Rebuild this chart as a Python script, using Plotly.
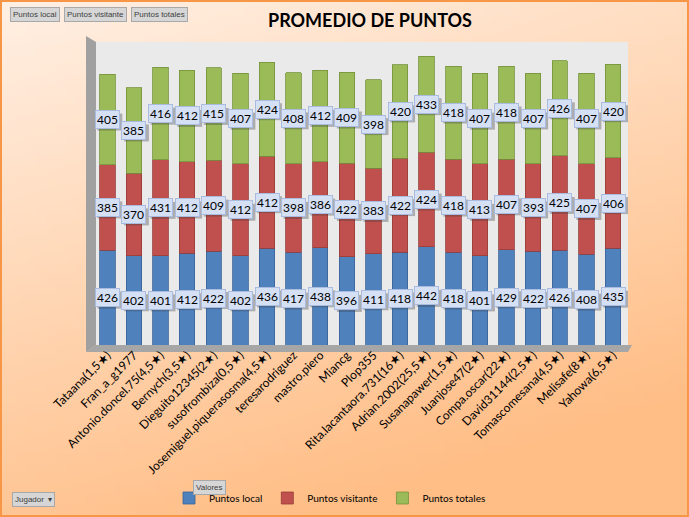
import base64, struct, zlib
import plotly.graph_objects as go

jugadores = ["Tataana(1,5★)", "Fran_a_g1977", "Antonio.doncel.75(4,5★)", "Bernych(3,5★)",
             "Dieguito12345(2★)", "susofrombiza(0,5★)", "Josemiguel.piquerasosma(4,5★)",
             "teresarodriguez", "mastro.piero", "Miancg", "Plop355", "Rita.lacantaora.731(16★)",
             "Adrian.2002(25,5★)", "Susanapawer(1,5★)", "Juanjose47(2★)", "Compa.oscar(22★)",
             "David31144(2,5★)", "Tomascomesana(4,5★)", "Melisafe(8★)", "Yahowa(6,5★)"]
puntos_local = [426, 402, 401, 412, 422, 402, 436, 417, 438, 396, 411, 418, 442, 418, 401, 429, 422, 426, 408, 435]
puntos_visitante = [385, 370, 431, 412, 409, 412, 412, 398, 386, 422, 383, 422, 424, 418, 413, 407, 393, 425, 407, 406]
puntos_totales = [405, 385, 416, 412, 415, 407, 424, 408, 412, 409, 398, 420, 433, 418, 407, 418, 407, 426, 407, 420]

series = [("Puntos local", puntos_local, "#4F81BD", "#3A6396"),
          ("Puntos visitante", puntos_visitante, "#C0504D", "#963C3A"),
          ("Puntos totales", puntos_totales, "#9BBB59", "#76923C")]

W, H = 689, 517
L, R, T, B = 94, 61, 38, 172
PW, PH = W - L - R, H - T - B


def px(x):
    return (x - L) / PW


def py(y):
    return (H - B - y) / PH


# gradient background as a small PNG
def make_png(w, h):
    rows = []
    c0, c1 = (255, 240, 228), (255, 190, 134)
    for j in range(h):
        row = bytearray([0])
        for i in range(w):
            t = min(1.0, max(0.0, 0.35 * i / w + 0.85 * j / h))
            row += bytes(int(c0[k] + (c1[k] - c0[k]) * t) for k in range(3))
        rows.append(bytes(row))
    raw = b"".join(rows)

    def chunk(tag, data):
        return struct.pack(">I", len(data)) + tag + data + struct.pack(">I", zlib.crc32(tag + data) & 0xffffffff)

    png = b"\x89PNG\r\n\x1a\n" + chunk(b"IHDR", struct.pack(">IIBBBBB", w, h, 8, 2, 0, 0, 0))
    png += chunk(b"IDAT", zlib.compress(raw, 9)) + chunk(b"IEND", b"")
    return "data:image/png;base64," + base64.b64encode(png).decode()


fig = go.Figure()
for name, vals, col, edge in series:
    fig.add_trace(go.Bar(x=jugadores, y=vals, name=name, marker=dict(color=col, line=dict(color=edge, width=0.8))))

annotations = []
shapes = []
base = [0] * len(jugadores)
for name, vals, col, edge in series:
    for i, (cat, v) in enumerate(zip(jugadores, vals)):
        yc = base[i] + v / 2
        # drop shadow of the label box
        shapes.append(dict(type="rect", xref="x", yref="y", xsizemode="pixel", ysizemode="pixel",
                           xanchor=cat, yanchor=yc, x0=-10, x1=15, y0=-11, y1=6, layer="above",
                           fillcolor="rgba(60,60,60,0.35)", line=dict(width=0)))
        annotations.append(dict(x=cat, y=yc, xref="x", yref="y", text=str(v), showarrow=False,
                                font=dict(family="Lato", size=12, color="#000000"),
                                bgcolor="#D5E0F5", bordercolor="#A9BCE0", borderwidth=1, borderpad=1))
        base[i] += v

btn = dict(showarrow=False, xref="paper", yref="paper", xanchor="center", yanchor="middle",
           bgcolor="#D6D6D6", bordercolor="#A8A8A8", borderwidth=1, borderpad=2,
           font=dict(family="Liberation Sans", size=8, color="#404040"))
for text, cx, cy in [("Puntos local", 35, 15), ("Puntos visitante", 95, 15), ("Puntos totales", 159, 15),
                     ("Jugador  ▾", 33, 499), ("Valores", 209, 487)]:
    annotations.append(dict(text=text, x=px(cx), y=py(cy), **btn))

annotations.append(dict(text="<b>PROMEDIO DE PUNTOS</b>", x=px(370), y=py(20), xref="paper", yref="paper",
                        xanchor="center", yanchor="middle",
                        showarrow=False, font=dict(family="Lato", size=18, color="#000000")))

shapes += [
    # back wall
    dict(type="rect", xref="paper", yref="paper", x0=0, x1=1, y0=0, y1=py(42), layer="below",
         fillcolor="#EAEAEA", line=dict(width=0)),
    # left wall
    dict(type="path", xref="paper", yref="paper", layer="below",
         path=f"M {px(86)},{py(36)} L {px(96)},{py(42)} L {px(96)},{py(345)} L {px(86)},{py(352)} Z",
         fillcolor="#A0A0A0", line=dict(width=0)),
    # floor
    dict(type="path", xref="paper", yref="paper", layer="below",
         path=f"M {px(86)},{py(352)} L {px(96)},{py(345)} L {px(632)},{py(345)} L {px(628)},{py(352)} Z",
         fillcolor="#A6A6A6", line=dict(width=0)),
    # outer border
    dict(type="rect", xref="paper", yref="paper", x0=px(1), x1=px(688), y0=py(1), y1=py(516),
         layer="above", fillcolor="rgba(0,0,0,0)", line=dict(color="#F79646", width=2)),
]

fig.update_layout(
    width=W, height=H, barmode="stack", bargap=0.42,
    margin=dict(l=L, r=R, t=T, b=B, autoexpand=False),
    paper_bgcolor="#FFD3AE", plot_bgcolor="rgba(0,0,0,0)",
    images=[dict(source=make_png(69, 52), xref="paper", yref="paper", x=px(0), y=py(0),
                 sizex=W / PW, sizey=H / PH, xanchor="left", yanchor="top", sizing="stretch", layer="below")],
    shapes=shapes, annotations=annotations,
    showlegend=True,
    legend=dict(orientation="h", xref="container", yref="container", x=330 / W, xanchor="center",
                y=1 - 498 / H, yanchor="middle",
                font=dict(family="Lato", size=10, color="#000000"), bgcolor="rgba(0,0,0,0)",
                traceorder="normal", itemwidth=30),
    xaxis=dict(tickangle=-45, tickfont=dict(family="Lato", size=12, color="#000000"), automargin=False,
               showgrid=False, showline=False, ticks="", zeroline=False),
    yaxis=dict(range=[0, 1380], showticklabels=False, showgrid=False, zeroline=False, showline=False,
               automargin=False),
)

fig.write_html("out.html", config={"displayModeBar": False},
               post_script="document.body.style.margin='0';document.body.style.overflow='hidden';")
